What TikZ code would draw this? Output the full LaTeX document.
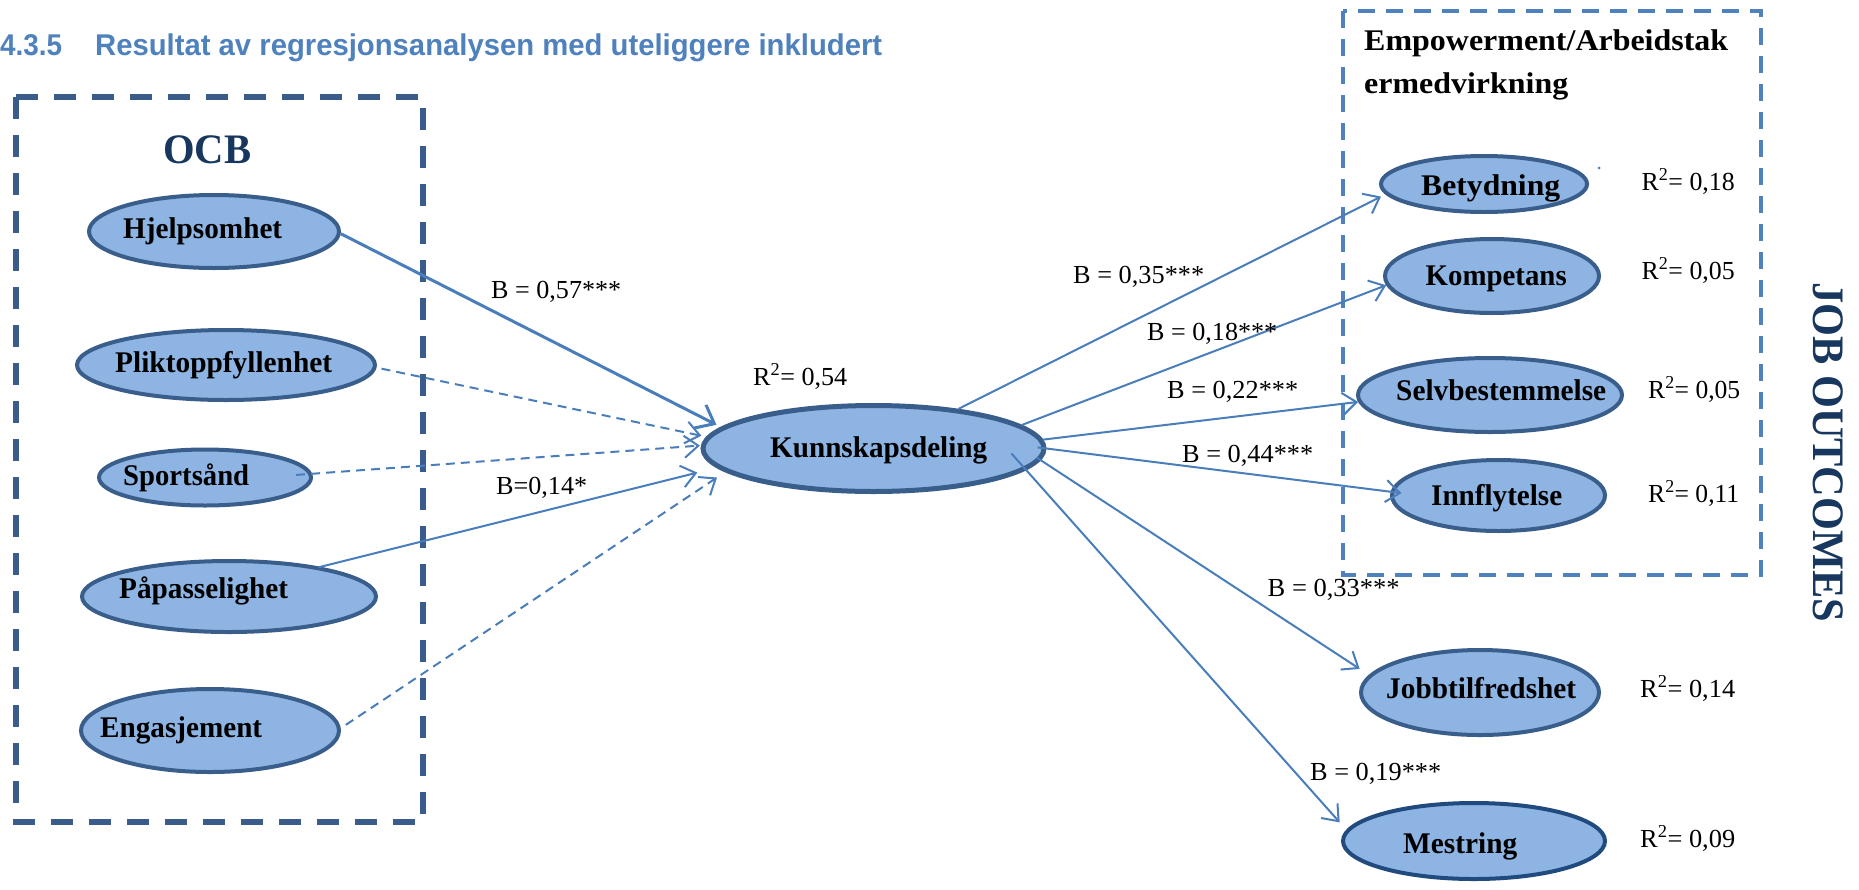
\documentclass[tikz,border=0pt]{standalone}
\usepackage{fontspec}
\setmainfont{Liberation Serif}
\newfontfamily\headsans{Liberation Sans}
\usepackage{graphicx}
\usetikzlibrary{shapes.geometric,arrows.meta}

\definecolor{ovalfill}{RGB}{142,180,227}
\definecolor{ovalline}{RGB}{58,94,139}
\definecolor{ovalnavy}{RGB}{33,74,126}
\definecolor{arrowblue}{RGB}{74,126,187}
\definecolor{ocbline}{RGB}{57,92,138}
\definecolor{boxblue}{RGB}{79,129,189}
\definecolor{navytext}{RGB}{23,55,94}
\definecolor{titleblue}{RGB}{79,129,189}

% scale a text horizontally to a given width (in pt), keeping its height
\newcommand\fitto[2]{\resizebox{#1pt}{\height}{#2}}

\begin{document}
\begin{tikzpicture}[x=1pt, y=-1pt,
  oval/.style={ellipse, draw=ovalline, fill=ovalfill, line width=4pt, inner sep=0pt},
  ovtxt/.style={anchor=base west, inner sep=0pt, font=\fontsize{30}{36}\selectfont\bfseries},
  coef/.style={anchor=base west, inner sep=0pt, font=\fontsize{26}{31}\selectfont},
  ttl/.style={anchor=base west, inner sep=0pt, text=titleblue, font={\headsans\fontsize{30}{36}\selectfont\bfseries}},
  link/.style={draw=arrowblue, line width=2pt, -{Straight Barb[length=14pt,width=22pt]}},
  dlink/.style={link, dash pattern=on 9pt off 6pt},
  biglink/.style={draw=arrowblue, line width=3pt, -{Straight Barb[length=16pt,width=26pt]}}
]
\useasboundingbox (0,0) rectangle (1859,889);

% heading
\node[ttl] (t-num) at (0,55) {\fitto{62}{4.3.5}};
\node[ttl] (t-txt) at (95,55) {\fitto{787}{Resultat av regresjonsanalysen med uteliggere inkludert}};

% group frames
\draw[ocbline, line width=5.5pt, dash pattern=on 22pt off 16pt] (16,97) rectangle (423,822);
\draw[boxblue, line width=4pt, dash pattern=on 17pt off 11pt] (1343,11) rectangle (1761,575);

% OCB dimensions
\node[oval, minimum width=250pt, minimum height=73pt] (hj) at (214,231.5) {};
\node[oval, minimum width=298pt, minimum height=70pt] (pl) at (226,365) {};
\node[oval, minimum width=212pt, minimum height=56pt] (sp) at (205,477.5) {};
\node[oval, minimum width=294pt, minimum height=71pt] (pa) at (229,596.5) {};
\node[oval, minimum width=258pt, minimum height=83pt] (en) at (210,730.5) {};

% mediator
\node[oval, line width=5pt, minimum width=341pt, minimum height=86pt] (kd) at (873.5,448.5) {};

% outcomes
\node[oval, minimum width=206pt, minimum height=56pt] (be) at (1484,184) {};
\node[oval, minimum width=214pt, minimum height=74pt] (ko) at (1492,276) {};
\node[oval, minimum width=264pt, minimum height=74pt] (se) at (1490,395) {};
\node[oval, minimum width=213pt, minimum height=71pt] (in) at (1498.5,495.5) {};
\node[oval, minimum width=238pt, minimum height=85pt] (jo) at (1480,692.5) {};
\node[oval, draw=ovalnavy, minimum width=262pt, minimum height=76pt] (me) at (1474,841) {};

\fill[arrowblue] (1599,168) circle (1.5pt);

% paths into Kunnskapsdeling
\draw[biglink, shorten >=5pt] (hj.-1) -- (kd.172.3);
\draw[dlink, shorten <=5pt, shorten >=5pt] (pl.-1.5) -- (kd.176.5);
\draw[dlink, shorten <=-16pt, shorten >=1pt] (sp.2.8) -- (kd.179.8);
\draw[link, shorten <=-2pt, shorten >=20pt] (pa.18.9) -- (kd.187.7);
\draw[dlink, shorten <=6pt, shorten >=10pt] (en.1.5) -- (kd.189.25);

% paths out of Kunnskapsdeling
\draw[link, shorten >=5pt] (kd.25.9) -- (be.-174);
\draw[link] (kd.9.55) -- (ko.-175.1);
\draw[link] (kd.3.8) -- (se.-177.9);
\draw[link, shorten <=-9pt, shorten >=-11pt] (kd.0) -- (in.178.5);
\draw[link, shorten <=-5pt, shorten >=11pt] (kd.-4.07) -- (jo.171.45);
\draw[link, shorten <=-22pt, shorten >=10pt] (kd.-8.7) -- (me.175.9);

% group titles
\node[anchor=base west, inner sep=0pt, text=navytext, font=\fontsize{42}{50}\selectfont\bfseries] (ocb-t) at (163,163) {\fitto{88}{OCB}};
\node[anchor=base west, inner sep=0pt, font=\fontsize{30}{36}\selectfont\bfseries] (emp-t1) at (1364,50) {\fitto{364}{Empowerment/Arbeidstak}};
\node[anchor=base west, inner sep=0pt, font=\fontsize{30}{36}\selectfont\bfseries] (emp-t2) at (1364,93) {\fitto{204}{ermedvirkning}};
\node[anchor=base west, inner sep=0pt, rotate=-90, text=navytext, font=\fontsize{45}{54}\selectfont\bfseries] (job-t) at (1813,282) {\fitto{340}{JOB OUTCOMES}};

% oval labels
\node[ovtxt] (hj-t) at (123,238) {\fitto{159}{Hjelpsomhet}};
\node[ovtxt] (pl-t) at (115,372) {\fitto{217}{Pliktoppfyllenhet}};
\node[ovtxt] (sp-t) at (123,485) {\fitto{126}{Sportsånd}};
\node[ovtxt] (pa-t) at (119,598) {\fitto{169}{Påpasselighet}};
\node[ovtxt] (en-t) at (100,737) {\fitto{162}{Engasjement}};
\node[ovtxt] (kd-t) at (770,457) {\fitto{217}{Kunnskapsdeling}};
\node[ovtxt] (be-t) at (1421,195) {\fitto{139}{Betydning}};
\node[ovtxt] (ko-t) at (1425.5,285) {\fitto{141}{Kompetans}};
\node[ovtxt] (se-t) at (1396,400) {\fitto{210}{Selvbestemmelse}};
\node[ovtxt] (in-t) at (1431,505) {\fitto{131}{Innflytelse}};
\node[ovtxt] (jo-t) at (1386,698) {\fitto{190}{Jobbtilfredshet}};
\node[ovtxt] (me-t) at (1403,853) {\fitto{114}{Mestring}};

% coefficients
\node[coef] (b-hj) at (491,298) {\fitto{130}{B = 0,57***}};
\node[coef] (b-pa) at (496,494) {\fitto{91}{B=0,14*}};
\node[coef] (b-be) at (1073,283) {\fitto{131}{B = 0,35***}};
\node[coef] (b-ko) at (1147,340) {\fitto{130}{B = 0,18***}};
\node[coef] (b-se) at (1167,398) {\fitto{131}{B = 0,22***}};
\node[coef] (b-in) at (1182,462) {\fitto{131}{B = 0,44***}};
\node[coef] (b-jo) at (1267.5,596) {\fitto{132}{B = 0,33***}};
\node[coef] (b-me) at (1310,780) {\fitto{131}{B = 0,19***}};

% explained variance
\node[coef] (r-kd) at (753,385) {\fitto{94}{R\textsuperscript{2}= 0,54}};
\node[coef] (r-be) at (1641.5,190) {\fitto{93}{R\textsuperscript{2}= 0,18}};
\node[coef] (r-ko) at (1641.5,279) {\fitto{93}{R\textsuperscript{2}= 0,05}};
\node[coef] (r-se) at (1648,398) {\fitto{92}{R\textsuperscript{2}= 0,05}};
\node[coef] (r-in) at (1648,502) {\fitto{91}{R\textsuperscript{2}= 0,11}};
\node[coef] (r-jo) at (1640,697) {\fitto{95}{R\textsuperscript{2}= 0,14}};
\node[coef] (r-me) at (1640,847) {\fitto{95}{R\textsuperscript{2}= 0,09}};
\end{tikzpicture}
\end{document}
